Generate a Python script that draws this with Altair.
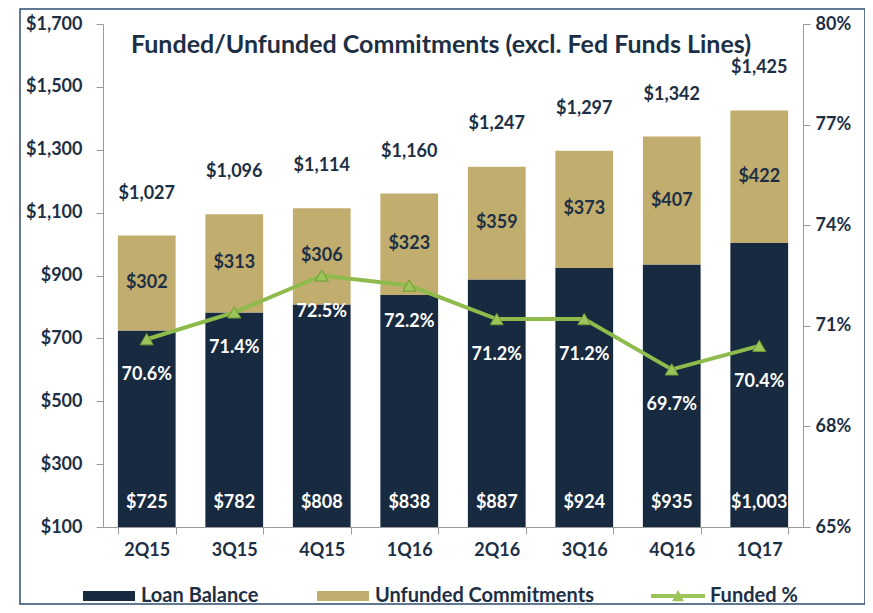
import altair as alt
import pandas as pd

quarters = ["2Q15", "3Q15", "4Q15", "1Q16", "2Q16", "3Q16", "4Q16", "1Q17"]
loan_balance = [725, 782, 808, 838, 887, 924, 935, 1003]
unfunded = [302, 313, 306, 323, 359, 373, 407, 422]
totals = [1027, 1096, 1114, 1160, 1247, 1297, 1342, 1425]
funded_pct = [70.6, 71.4, 72.5, 72.2, 71.2, 71.2, 69.7, 70.4]

NAVY = "#172a40"
TAN = "#c1ae6e"
GREEN = "#8fbb4c"
TXT = "#1d2f45"
FONT = "Lato"

rows = []
for q, lb, uf in zip(quarters, loan_balance, unfunded):
    rows.append({"quarter": q, "series": "Loan Balance", "value": lb, "ord": 0})
    rows.append({"quarter": q, "series": "Unfunded Commitments", "value": uf, "ord": 1})
stack_df = pd.DataFrame(rows)

q_df = pd.DataFrame({
    "quarter": quarters,
    "loan": loan_balance,
    "unfunded": unfunded,
    "total": totals,
    "funded": funded_pct,
    "base": [100] * len(quarters),
})
q_df["mid"] = [lb + uf / 2 for lb, uf in zip(loan_balance, unfunded)]
q_df["pct_label"] = [f"{v:.1f}%" for v in funded_pct]
q_df["line_series"] = "Funded %"

x_enc = alt.X(
    "quarter:N", sort=quarters, title=None,
    scale=alt.Scale(paddingInner=0.34),
    axis=alt.Axis(labelAngle=0, labelFont=FONT, labelFontSize=18, labelFontWeight="bold",
                  labelColor=TXT, domainColor="#9a9a9a", tickColor="#9a9a9a", tickSize=7,
                  tickBand="extent", labelPadding=7, grid=False),
)

y_left_scale = alt.Scale(domain=[100, 1700], nice=False, zero=False)
y_left_axis = alt.Axis(values=[100, 300, 500, 700, 900, 1100, 1300, 1500, 1700], format="$,d",
                       labelFont=FONT, labelFontSize=18, labelFontWeight="bold", labelColor=TXT,
                       domainColor="#9a9a9a", tickColor="#9a9a9a", tickSize=7, labelPadding=14,
                       grid=False, title=None)

bars = alt.Chart(stack_df).mark_bar(clip=True).encode(
    x=x_enc,
    y=alt.Y("sum(value):Q", stack="zero", scale=y_left_scale, axis=y_left_axis, title=None),
    color=alt.Color("series:N", scale=alt.Scale(domain=["Loan Balance", "Unfunded Commitments"],
                                                 range=[NAVY, TAN]),
                    legend=alt.Legend(orient="none", legendX=-20, legendY=546, direction="horizontal",
                                      title=None, symbolType="M-1,-0.19H1V0.19H-1Z", symbolSize=2704,
                                      symbolStrokeWidth=0, labelFont=FONT, labelFontSize=20,
                                      labelFontWeight="bold", labelColor=TXT, labelOffset=6,
                                      columnPadding=58, padding=0, labelLimit=400)),
    order=alt.Order("ord:Q"),
)

total_text = alt.Chart(q_df).mark_text(font=FONT, fontSize=18, fontWeight="bold", color=TXT, dy=-42).encode(
    x=x_enc, y=alt.Y("total:Q", scale=y_left_scale), text=alt.Text("total:Q", format="$,d"))

unf_text = alt.Chart(q_df).mark_text(font=FONT, fontSize=18, fontWeight="bold", color=TXT).encode(
    x=x_enc, y=alt.Y("mid:Q", scale=y_left_scale), text=alt.Text("unfunded:Q", format="$,d"))

loan_text = alt.Chart(q_df).mark_text(font=FONT, fontSize=18, fontWeight="bold", color="white", dy=-24).encode(
    x=x_enc, y=alt.Y("base:Q", scale=y_left_scale), text=alt.Text("loan:Q", format="$,d"))

left_layer = alt.layer(bars, total_text, unf_text, loan_text)

y_right_scale = alt.Scale(domain=[65, 80], nice=False, zero=False)
y_right_axis = alt.Axis(orient="right", values=[65, 68, 71, 74, 77, 80], labelExpr="datum.value + '%'",
                        labelFont=FONT, labelFontSize=18, labelFontWeight="bold", labelColor=TXT,
                        domainColor="#9a9a9a", tickColor="#9a9a9a", tickSize=7, labelPadding=5,
                        grid=False, title=None)

line = alt.Chart(q_df).mark_line(color=GREEN, strokeWidth=4).encode(
    x=x_enc, y=alt.Y("funded:Q", scale=y_right_scale, axis=y_right_axis, title=None))

points = alt.Chart(q_df).mark_point(shape="triangle-up", filled=True, size=170, opacity=1,
                                    stroke="#6e9a34", strokeWidth=1).encode(
    x=x_enc, y=alt.Y("funded:Q", scale=y_right_scale),
    color=alt.Color("line_series:N", scale=alt.Scale(domain=["Funded %"], range=["#9cc45a"]),
                    legend=alt.Legend(orient="none", legendX=548, legendY=545, direction="horizontal",
                                      title=None,
                                      symbolType="M-1,-0.07H1V0.07H-1Z M-0.22,0.19L0,-0.22L0.22,0.19Z",
                                      symbolSize=2916, symbolStrokeWidth=0, labelFont=FONT,
                                      labelFontSize=20, labelFontWeight="bold", labelColor=TXT,
                                      labelOffset=5, padding=0)),
)

pct_text = alt.Chart(q_df).mark_text(font=FONT, fontSize=18, fontWeight="bold", color="white", dy=36).encode(
    x=x_enc, y=alt.Y("funded:Q", scale=y_right_scale), text="pct_label:N")

right_layer = alt.layer(line, points, pct_text)

border = alt.Chart(pd.DataFrame({"a": [0]})).mark_rect(filled=False, stroke="#2f4b6e", strokeWidth=1.5).encode(
    x=alt.value(-83), x2=alt.value(762), y=alt.value(-15), y2=alt.value(580))

chart = alt.layer(left_layer, right_layer, border).resolve_scale(
    y="independent", color="independent"
).properties(
    width=700, height=503,
    padding={"left": 95, "top": 16, "right": 62, "bottom": 78},
    autosize=alt.AutoSizeParams(type="none"),
    title=alt.TitleParams("Funded/Unfunded Commitments (excl. Fed Funds Lines)", font=FONT, fontSize=25,
                          fontWeight="bold", color=TXT, anchor="middle", offset=-50, dx=-12),
).configure_view(stroke=None)

chart.save("out.html", embed_options={"renderer": "svg", "actions": False})
